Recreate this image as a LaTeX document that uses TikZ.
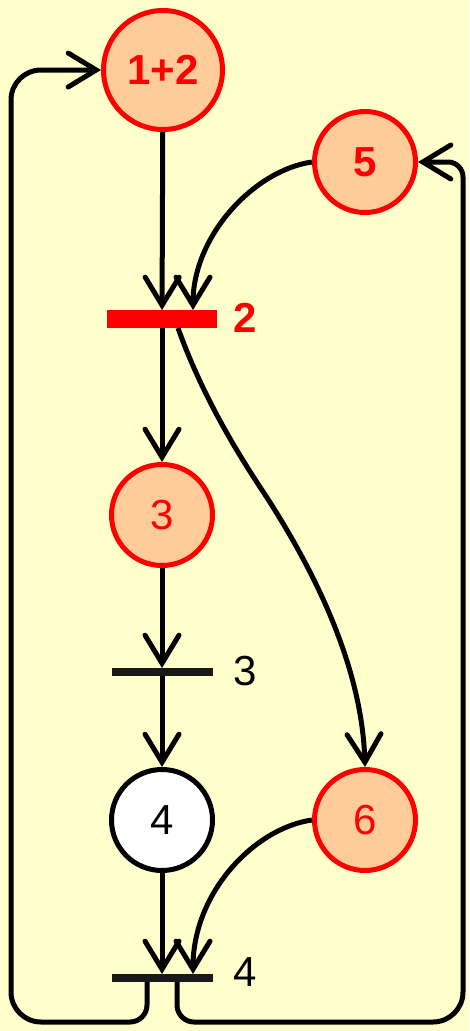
\documentclass[tikz,border=0pt]{standalone}
\usepackage{fontspec}
\setmainfont{Liberation Sans}
\usetikzlibrary{arrows.meta}
\definecolor{bgyellow}{HTML}{FFFFCC}
\definecolor{peach}{HTML}{FFCC99}
\definecolor{pnred}{HTML}{FF0000}
\begin{document}
\begin{tikzpicture}[x=1pt,y=-1pt,
  place/.style={circle,line width=5pt,minimum size=101pt,inner sep=0pt,
    font=\fontsize{42}{42}\selectfont},
  active/.style={place,draw=pnred,fill=peach,text=pnred},
  idle/.style={place,draw=black,fill=white,text=black},
  bar/.style={rectangle,inner sep=0pt,outer sep=0pt,minimum width=101pt,minimum height=8pt,fill=black!90},
  firing/.style={bar,fill=pnred,minimum width=110pt,minimum height=18pt},
  arc/.style={line width=5pt,-{Straight Barb[length=28pt,width=34pt,line cap=round]}},
  tlabel/.style={font=\fontsize{42}{42}\selectfont},
]
\fill[bgyellow] (0,0) rectangle (469,1031);
\useasboundingbox (0,0) rectangle (469,1031);

\node[active,minimum size=119pt,font=\fontsize{42}{42}\selectfont\bfseries] (p12) at (163,70) {1+2};
\node[active,font=\fontsize{42}{42}\selectfont\bfseries] (p5) at (365,162) {5};
\node[firing] (t2) at (162,319) {};
\node[tlabel,text=pnred,font=\fontsize{42}{42}\selectfont\bfseries] (l2) at (245,318) {2};
\node[active] (p3) at (162,515) {3};
\node[bar] (t3) at (162,672) {};
\node[tlabel] (l3) at (245,671) {3};
\node[idle] (p4) at (162,820) {4};
\node[active] (p6) at (365,820) {6};
\node[bar] (t4) at (162,978) {};
\node[tlabel] (l4) at (245,972) {4};

\draw[arc] (p12) -- (t2);
\draw[arc] (p5.west) .. controls (255,170) and (193,235) .. ([xshift=31pt]t2.north);
\draw[arc] (t2) -- (p3);
\draw[arc] ([xshift=16pt]t2.south) .. controls (198,384) and (227,437) .. (260,487)
  .. controls (315,570) and (362,667) .. (p6.north);
\draw[arc] (p3) -- (t3);
\draw[arc] (t3) -- (p4);
\draw[arc] (p4) -- (t4);
\draw[arc] (p6.west) .. controls (255,828) and (193,892) .. ([xshift=31pt]t4.north);
\draw[arc] ([xshift=-15pt]t4.south) -- (147,1005)
  arc[start angle=0,end angle=90,radius=17] -- (41,1022)
  arc[start angle=90,end angle=180,radius=30] -- (11,100)
  arc[start angle=180,end angle=270,radius=30] -- (p12.west);
\draw[arc] ([xshift=15pt]t4.south) -- (177,1005)
  arc[start angle=180,end angle=90,radius=17] -- (433,1022)
  arc[start angle=90,end angle=0,radius=30] -- (463,177)
  arc[start angle=0,end angle=-90,radius=15] -- (p5.east);
\end{tikzpicture}
\end{document}
